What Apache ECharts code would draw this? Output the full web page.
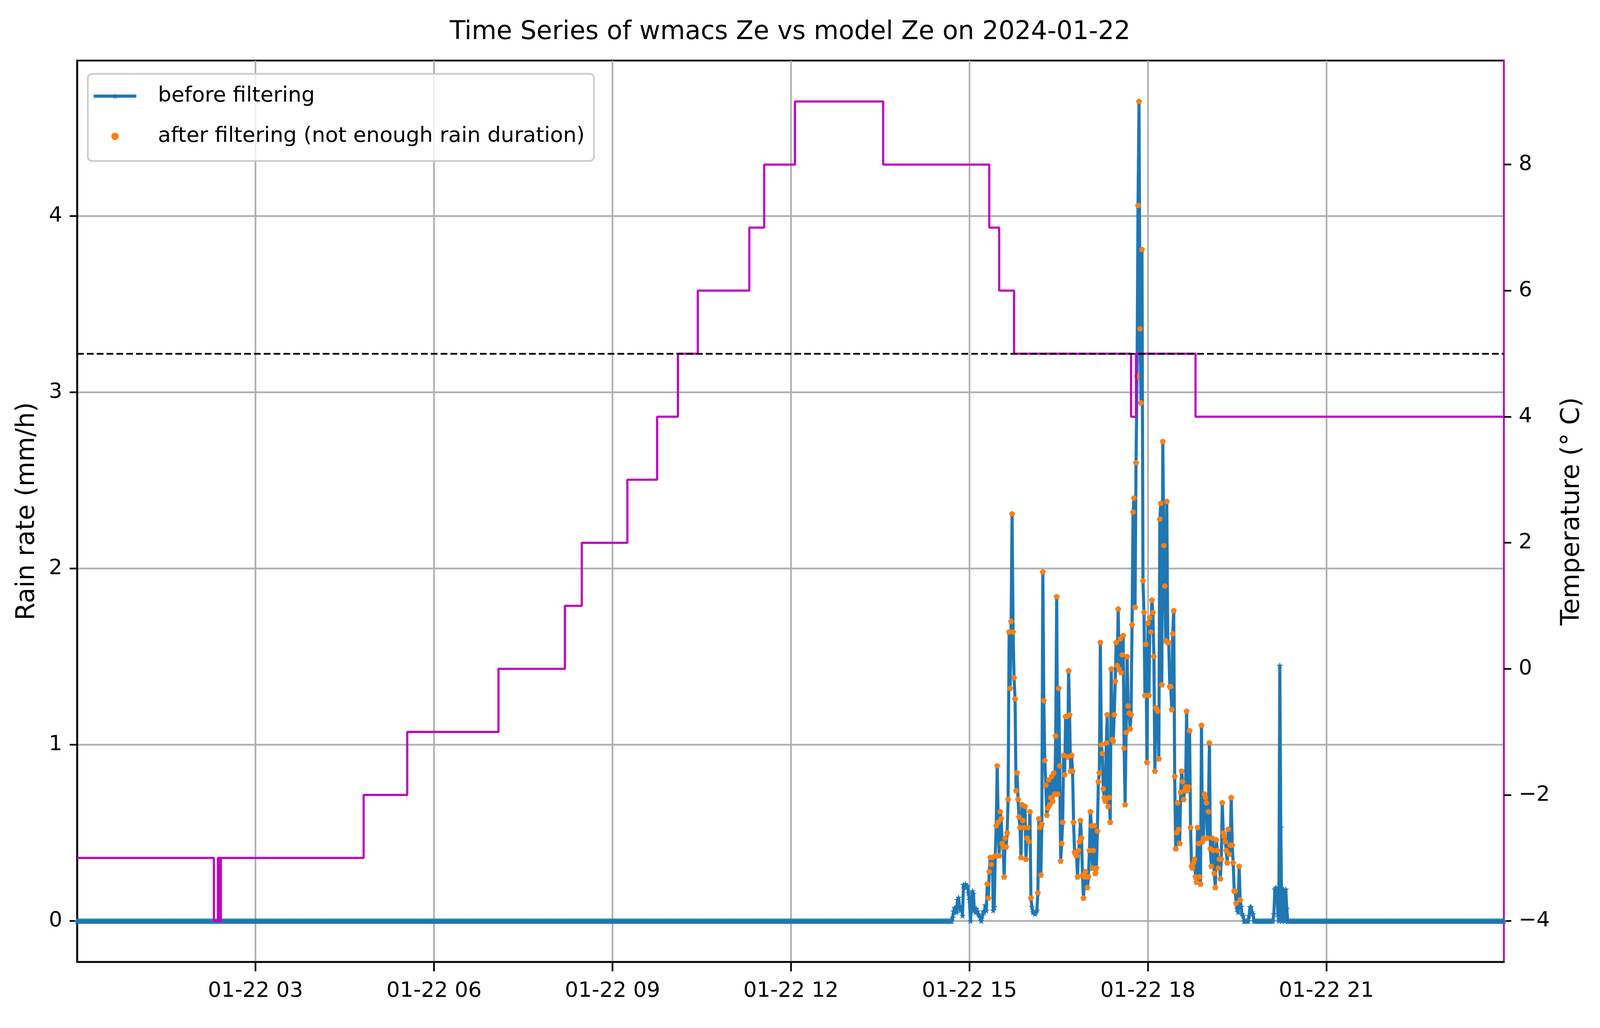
<!DOCTYPE html>
<html>
<head>
<meta charset="utf-8">
<title>Time Series of wmacs Ze vs model Ze on 2024-01-22</title>
<script src="https://cdn.jsdelivr.net/npm/echarts@6/dist/echarts.min.js"></script>
<style>
  html, body { margin: 0; padding: 0; background: #fff; overflow: hidden; }
  #main { width: 100vw; height: 100vh; }
</style>
</head>
<body>
<div id="main"></div>
<script>
var DAY = '2024-01-22';

// rain rate (mm/h), one value per minute starting at WET_START; all other minutes of the day read 0
var WET_START = '14:40';
var rain1440 = [0, 0, 0, 0.02, 0.055, 0.074, 0.077, 0.05, 0.12, 0.133,
    0.08, 0.06, 0.08, 0.03, 0.206, 0.2, 0.21, 0.19, 0.2, 0.16];
var rain15 = [0.12, 0, 0.08, 0.17, 0.155, 0.06, 0.05, 0.07, 0.055, 0.04,
    0.03, 0.02, 0, 0.03, 0.055, 0.05, 0.09, 0.06, 0.21, 0.13,
    0.28, 0.36, 0.32, 0.36, 0.06, 0.08, 0.37, 0.54, 0.88, 0.56,
    0.37, 0.62, 0.58, 0.44, 0.42, 0.25, 0.47, 0.42, 0.5, 0.69,
    1.64, 1.32, 1.7, 2.31, 1.64, 1.38, 1.26, 0.74, 0.84, 0.69,
    0.59, 0.53, 0.36, 0.66, 0.57, 0.53, 0.65, 0.35, 0.47, 0.53];
var rain16 = [0.45, 0.62, 0.13, 0.08, 0.05, 0.05, 0.04, 0.05, 0.06, 0.16,
    0.58, 0.53, 0.26, 0.55, 1.98, 1.25, 0.91, 0.77, 0.6, 0.64,
    0.8, 0.66, 0.7, 0.82, 0.68, 0.84, 0.72, 1.05, 1.84, 0.72,
    1.32, 0.88, 0.34, 0.44, 0.56, 0.94, 0.83, 1.16, 1.16, 0.93,
    1.42, 1.17, 0.85, 0.94, 0.85, 0.56, 0.39, 0.38, 0.37, 0.25,
    0.4, 0.45, 0.57, 0.47, 0.26, 0.13, 0.25, 0.28, 0.25, 0.19];
var rain17 = [0.25, 0.4, 0.62, 0.54, 0.3, 0.4, 0.54, 0.27, 0.3, 0.51,
    0.79, 0.84, 1.58, 1.0, 0.95, 0.75, 0.7, 0.68, 1.01, 1.17,
    0.65, 0.7, 0.56, 1.43, 1.03, 1.02, 1.17, 1.36, 1.58, 1.45,
    1.77, 1.43, 1.6, 1.41, 1.51, 1.62, 0.98, 0.66, 1.07, 1.5,
    1.22, 1.18, 1.09, 1.17, 1.68, 2.32, 2.4, 1.78, 2.6, 3.09,
    4.06, 4.65, 3.36, 2.94, 3.81, 1.93, 1.75, 1.28, 1.57, 0.9];
var rain18 = [1.69, 1.28, 1.72, 1.64, 1.82, 1.75, 1.5, 0.85, 1.21, 1.2,
    1.19, 0.92, 2.28, 2.37, 1.34, 2.72, 2.13, 1.9, 1.59, 2.38,
    1.58, 1.58, 1.33, 1.33, 1.2, 1.63, 1.76, 0.82, 0.41, 0.5,
    0.67, 0.52, 0.44, 0.73, 0.85, 0.79, 0.69, 0.74, 0.76, 1.19,
    0.74, 0.76, 1.08, 0.53, 0.31, 0.3, 0.33, 0.35, 0.25, 0.22,
    0.53, 0.44, 0.25, 0.21, 1.11, 0.45, 0.47, 0.72, 0.7, 0.67];
var rain19 = [0.47, 0.62, 1.01, 0.41, 0.31, 0.47, 0.4, 0.27, 0.19, 0.46,
    0.4, 0.3, 0.35, 0.24, 0.35, 0.67, 0.5, 0.48, 0.45, 0.4,
    0.33, 0.52, 0.38, 0.43, 0.7, 0.43, 0.33, 0.17, 0.17, 0.1,
    0.07, 0.05, 0.31, 0.12, 0.08, 0.04, 0.03, 0, 0, 0,
    0, 0, 0.03, 0.08, 0.08, 0.05, 0.04, 0, 0, 0,
    0, 0, 0, 0, 0, 0, 0, 0, 0, 0];
var rain20 = [0, 0, 0, 0, 0, 0, 0, 0.04, 0.18, 0.19,
    0.18, 0.04, 0, 1.45, 0.53, 0, 0.18, 0.18, 0, 0.18,
    0.07, 0, 0, 0, 0, 0];

// filtered series keeps the long rain event only
var EVENT_START = '15:18';
var EVENT_END = '19:33';
var MIN_RATE = 0.1;

// temperature (deg C), value holds from each time until the next
var tempTimes = ['00:00', '02:18', '02:22', '02:24', '02:25', '04:49', '05:33', '07:05', '08:12',
    '08:29', '09:15', '09:45', '10:06', '10:26', '11:18', '11:33', '12:04', '13:33',
    '15:20', '15:30', '15:45', '17:43', '17:48', '18:48', '23:59'];
var tempValues = [-3, -4, -3, -4, -3, -2, -1, 0, 1,
    2, 3, 4, 5, 6, 7, 8, 9, 8,
    7, 6, 5, 4, 5, 4, 4];
var TEMP_LINE = 5;

var xTickHours = [3, 6, 9, 12, 15, 18, 21];
var rainTicks = [0, 1, 2, 3, 4];
var tempTicks = [-4, -2, 0, 2, 4, 6, 8];

var FONT = "'DejaVu Sans', sans-serif";

// layout was measured on a 5211 x 2631 picture; map it onto the real viewport
var SX = window.innerWidth / 5211;
var SY = window.innerHeight / 2631;
function X(v) { return v * SX; }
function Y(v) { return v * SY; }

function toMin(s) {
    var p = s.split(':');
    return (+p[0]) * 60 + (+p[1]);
}

var rainWet = [].concat(rain1440, rain15, rain16, rain17, rain18, rain19, rain20);
var ws = toMin(WET_START);
var evS = toMin(EVENT_START), evE = toMin(EVENT_END);
var before = [], after = [];
for (var m = 0; m < 1440; m++) {
    var v = (m >= ws && m < ws + rainWet.length) ? rainWet[m - ws] : 0;
    before.push([m, v]);
    if (m >= evS && m <= evE && v >= MIN_RATE) after.push([m, v]);
}
var tempPts = tempTimes.map(function (t, i) { return [toMin(t), tempValues[i]]; });

// axis limits with 5% margins like the source plot
var rMax = Math.max.apply(null, rainWet);
var rPad = rMax * 0.05;
var tMin = Math.min.apply(null, tempValues), tMax = Math.max.apply(null, tempValues);
var tPad = (tMax - tMin) * 0.05;

function starPath() {
    var pts = [];
    for (var i = 0; i < 10; i++) {
        var r = i % 2 ? 0.382 : 1;
        var a = -Math.PI / 2 + i * Math.PI / 5;
        pts.push((r * Math.cos(a)).toFixed(3) + ',' + (r * Math.sin(a)).toFixed(3));
    }
    return 'path://M' + pts.join('L') + 'Z';
}

var LW = X(5.5);
var tickFont = { fontFamily: FONT, fontSize: X(69), color: '#000' };
var xTicks = xTickHours.map(function (h) { return h * 60; });

// legend rows sit at y 246 and 349, box from y 189 to 412
var legLine = X(69);

var myChart = echarts.init(document.getElementById('main'));
var option = {
    animation: false,
    backgroundColor: '#fff',
    title: {
        text: 'Time Series of wmacs Ze vs model Ze on ' + DAY,
        left: X(1465),
        top: Y(83) - X(41),
        padding: 0,
        textStyle: { fontFamily: FONT, fontSize: X(83), lineHeight: X(83), fontWeight: 'normal', color: '#000' }
    },
    legend: {
        data: ['before filtering', 'after filtering (not enough rain duration)'],
        orient: 'vertical',
        left: X(286),
        top: Y(189),
        padding: [Y(57) - legLine / 2, X(30), Y(63) - legLine / 2, X(14)],
        itemWidth: X(139),
        itemHeight: X(24),
        itemGap: Y(103) - legLine,
        selectedMode: false,
        backgroundColor: 'rgba(255,255,255,0.8)',
        borderColor: '#cccccc',
        borderWidth: LW,
        borderRadius: X(14),
        lineStyle: { width: X(10) },
        textStyle: { fontFamily: FONT, fontSize: X(69), color: '#000', lineHeight: legLine, padding: [0, 0, 0, X(64)] }
    },
    grid: {
        left: X(251), top: Y(155), right: X(313), bottom: Y(169),
        show: true, borderColor: '#000', borderWidth: LW, backgroundColor: 'transparent'
    },
    xAxis: {
        type: 'value',
        min: 0,
        max: 1439,
        axisLine: { show: true, onZero: false, lineStyle: { color: '#000', width: LW } },
        axisTick: { show: true, length: Y(24), lineStyle: { color: '#000', width: LW }, customValues: xTicks },
        axisLabel: Object.assign({ margin: Y(48), customValues: xTicks,
            formatter: function (v) {
                var h = Math.round(v / 60);
                return DAY.slice(5) + ' ' + (h < 10 ? '0' : '') + h;
            } }, tickFont),
        splitLine: { show: true, lineStyle: { color: '#b0b0b0', width: LW } }
    },
    yAxis: [{
        type: 'value',
        position: 'left',
        min: -rPad,
        max: rMax + rPad,
        name: 'Rain rate (mm/h)',
        nameLocation: 'middle',
        nameGap: X(120),
        nameRotate: 90,
        nameTextStyle: { fontFamily: FONT, fontSize: X(83), color: '#000' },
        axisLine: { show: true, onZero: false, lineStyle: { color: '#000', width: LW } },
        axisTick: { show: true, length: X(24), lineStyle: { color: '#000', width: LW }, customValues: rainTicks },
        axisLabel: Object.assign({ margin: X(48), customValues: rainTicks,
            formatter: function (v) { return String(Math.round(v)); } }, tickFont),
        splitLine: { show: true, lineStyle: { color: '#b0b0b0', width: LW } }
    }, {
        type: 'value',
        position: 'right',
        min: tMin - tPad,
        max: tMax + tPad,
        name: 'Temperature (° C)',
        nameLocation: 'middle',
        nameGap: X(182),
        nameRotate: 90,
        nameTextStyle: { fontFamily: FONT, fontSize: X(83), color: '#000' },
        axisLine: { show: true, onZero: false, lineStyle: { color: '#bf00bf', width: LW } },
        axisTick: { show: true, length: X(24), lineStyle: { color: '#000', width: LW }, customValues: tempTicks },
        axisLabel: Object.assign({ margin: X(48), customValues: tempTicks,
            formatter: function (v) { return String(Math.round(v)).replace('-', '\u2212'); } }, tickFont),
        splitLine: { show: false }
    }],
    series: [{
        name: 'before filtering',
        type: 'line',
        data: before,
        yAxisIndex: 0,
        symbol: starPath(),
        symbolSize: X(22),
        symbolKeepAspect: true,
        showSymbol: true,
        showAllSymbol: true,
        lineStyle: { color: '#1f77b4', width: X(10) },
        itemStyle: { color: '#1f77b4' },
        z: 2
    }, {
        name: 'after filtering (not enough rain duration)',
        type: 'scatter',
        data: after,
        yAxisIndex: 0,
        symbol: 'circle',
        symbolSize: X(18),
        itemStyle: { color: '#ff7f0e', opacity: 1 },
        z: 3
    }, {
        name: 'temperature',
        type: 'line',
        data: tempPts,
        yAxisIndex: 1,
        step: 'end',
        symbol: 'none',
        lineStyle: { color: '#bf00bf', width: X(7) },
        itemStyle: { color: '#bf00bf' },
        z: 4,
        markLine: {
            silent: true,
            symbol: 'none',
            label: { show: false },
            lineStyle: { color: '#000', type: [X(22), X(10)], width: X(6) },
            data: [{ yAxis: TEMP_LINE }]
        }
    }]
};
myChart.setOption(option);
</script>
</body>
</html>
